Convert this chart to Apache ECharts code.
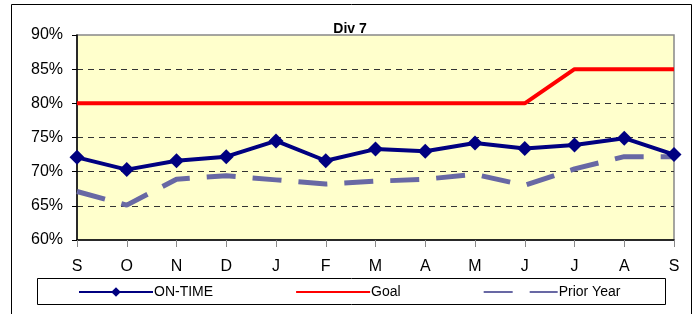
<!DOCTYPE html>
<html>
<head>
<meta charset="utf-8">
<script src="https://cdn.jsdelivr.net/npm/echarts@6/dist/echarts.min.js"></script>
<style>
  html, body { margin: 0; padding: 0; background: #fff; }
  #chart { width: 698px; height: 314px; }
</style>
</head>
<body>
<div id="chart"></div>
<script>
// months, Sept to Sept
const months = ['S', 'O', 'N', 'D', 'J', 'F', 'M', 'A', 'M', 'J', 'J', 'A', 'S']
const onTime = [72.1, 70.3, 71.6, 72.2, 74.5, 71.6, 73.3, 73.0, 74.2, 73.4, 73.9, 74.9, 72.5]
const goal = [80, 80, 80, 80, 80, 80, 80, 80, 80, 80, 85, 85, 85]
const priorYear = [67.1, 65.1, 68.9, 69.4, 68.8, 68.2, 68.6, 68.9, 69.6, 68.0, 70.4, 72.2, 72.2]

const font = 'Liberation Sans, Arial, sans-serif'

const chart = echarts.init(document.getElementById('chart'))

chart.setOption({
  animation: false,
  backgroundColor: '#fff',
  title: {
    text: 'Div 7',
    left: 350,
    textAlign: 'center',
    top: 22,
    padding: 0,
    textStyle: { fontFamily: font, fontSize: 14, fontWeight: 'bold', color: '#000' }
  },
  graphic: [
    // outer frame
    { type: 'rect', shape: { x: 11.5, y: 4.5, width: 680, height: 320 },
      style: { fill: null, stroke: '#000', lineWidth: 1 }, z: -1 },
    // legend box
    { type: 'rect', shape: { x: 37.5, y: 278.5, width: 628, height: 26 },
      style: { fill: '#fff', stroke: '#000', lineWidth: 1 }, z: 0 }
  ],
  legend: {
    left: 78,
    top: 285,
    itemWidth: 74,
    itemHeight: 12,
    itemGap: 82,
    padding: 0,
    textStyle: { fontFamily: font, fontSize: 14, color: '#000', padding: [0, 0, 0, -4] },
    data: [
      { name: 'ON-TIME' },
      { name: 'Goal', itemStyle: { opacity: 0 } },
      { name: 'Prior Year', itemStyle: { opacity: 0 } }
    ],
    z: 5
  },
  grid: {
    left: 77, top: 35, right: 24, bottom: 74,
    show: true,
    backgroundColor: '#FFFFCC',
    borderColor: '#888',
    borderWidth: 1.5
  },
  xAxis: {
    type: 'category',
    data: months,
    boundaryGap: false,
    axisLine: { lineStyle: { color: '#000', width: 1.5 } },
    axisTick: { show: true, inside: false, length: 7, lineStyle: { color: '#888' }, alignWithLabel: true },
    axisLabel: { fontFamily: font, fontSize: 16, color: '#000', margin: 19 }
  },
  yAxis: {
    type: 'value',
    min: 60,
    max: 90,
    interval: 5,
    axisLine: { show: true, lineStyle: { color: '#000', width: 1.5 } },
    axisTick: { show: true, inside: false, length: 5, lineStyle: { color: '#000' } },
    axisLabel: { fontFamily: font, fontSize: 16, color: '#000', margin: 14, formatter: '{value}%' },
    splitLine: {
      show: true,
      showMinLine: false,
      showMaxLine: false,
      lineStyle: { color: '#333', type: [6, 5], width: 1 }
    }
  },
  series: [
    {
      name: 'ON-TIME',
      type: 'line',
      data: onTime,
      symbol: 'diamond',
      symbolSize: 15,
      color: '#000080',
      lineStyle: { color: '#000080', width: 4 },
      itemStyle: { color: '#000080' },
      z: 4
    },
    {
      name: 'Goal',
      type: 'line',
      data: goal,
      symbol: 'none',
      color: '#FF0000',
      lineStyle: { color: '#FF0000', width: 4 },
      z: 3
    },
    {
      name: 'Prior Year',
      type: 'line',
      data: priorYear,
      symbol: 'none',
      color: '#6868A4',
      lineStyle: { color: '#6868A4', width: 5, type: [29, 17] },
      z: 2
    }
  ]
})
</script>
</body>
</html>
